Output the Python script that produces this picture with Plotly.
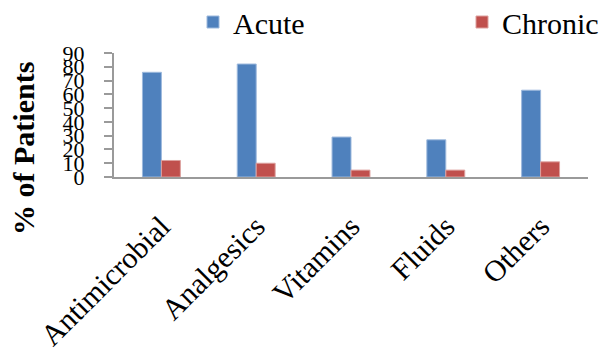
import plotly.graph_objects as go

categories = ["Antimicrobial", "Analgesics", "Vitamins", "Fluids", "Others"]
acute = [76, 82, 29, 27, 63]
chronic = [12, 10, 5, 5, 11]
y_ticks = [0, 10, 20, 30, 40, 50, 60, 70, 80, 90]

SERIF = "Liberation Serif, Times New Roman, serif"
AXIS_GREY = "#9a9a9a"

# plot-area geometry in pixels
W, H = 602, 350
L, R, T, B = 114, 14, 53, 173
pw, ph = W - L - R, H - T - B

fig = go.Figure()
fig.add_trace(go.Bar(
    name="Acute", x=categories, y=acute, legend="legend",
    marker=dict(color="#4F81BD", line=dict(color="#9DB9DD", width=1)),
))
fig.add_trace(go.Bar(
    name="Chronic", x=categories, y=chronic, legend="legend2",
    marker=dict(color="#C0504D", line=dict(color="#DDA09E", width=1)),
))

legend_style = dict(
    orientation="h",
    xref="paper", yref="paper", xanchor="left", yanchor="middle",
    y=1 + (T - 22) / ph,
    font=dict(family=SERIF, size=30, color="black"),
    bgcolor="rgba(0,0,0,0)",
)

fig.update_layout(
    width=W, height=H,
    margin=dict(l=L, r=R, t=T, b=B, pad=0, autoexpand=False),
    paper_bgcolor="white", plot_bgcolor="white",
    barmode="group", bargap=0.6, bargroupgap=0,
    font=dict(family=SERIF, color="black"),
    legend=dict(x=(193 - L) / pw, **legend_style),
    legend2=dict(x=(462 - L) / pw, **legend_style),
    showlegend=True,
)

fig.update_xaxes(
    showline=True, linecolor=AXIS_GREY, linewidth=2,
    ticks="", showgrid=False, zeroline=False, automargin=False,
    tickangle=-45, ticklabelstandoff=18,
    tickfont=dict(family=SERIF, size=30, color="black"),
)
fig.update_yaxes(
    range=[0, 90], tickvals=y_ticks, ticktext=[str(v) for v in y_ticks],
    showline=True, linecolor=AXIS_GREY, linewidth=2,
    ticks="outside", ticklen=8, tickwidth=1.5, tickcolor=AXIS_GREY,
    ticklabelstandoff=15, automargin=False,
    showgrid=False, zeroline=False,
    tickfont=dict(family=SERIF, size=22, color="black"),
)

fig.add_annotation(
    text="<b>% of Patients</b>",
    xref="paper", yref="paper",
    x=(23 - L) / pw, y=(H - B - 149) / ph,
    xanchor="center", yanchor="middle",
    textangle=-90, showarrow=False,
    font=dict(family=SERIF, size=30, color="black"),
)

fig.write_html("out.html")
